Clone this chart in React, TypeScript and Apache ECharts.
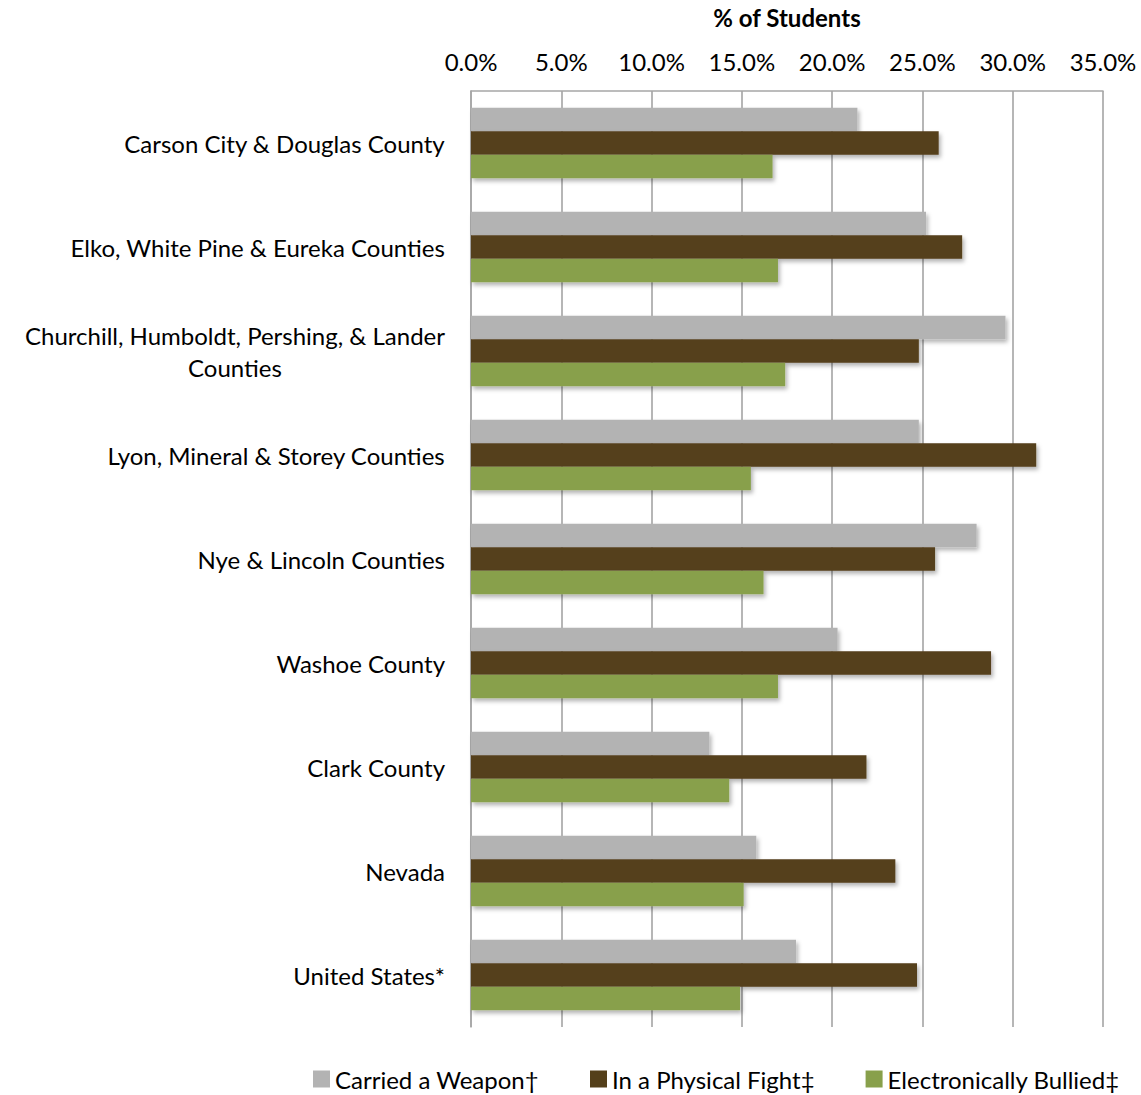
import React, { useEffect, useRef } from "react";
import * as echarts from "echarts";

const categories = [
  "Carson City & Douglas County",
  "Elko, White Pine & Eureka Counties",
  "Churchill, Humboldt, Pershing, & Lander\nCounties",
  "Lyon, Mineral & Storey Counties",
  "Nye & Lincoln Counties",
  "Washoe County",
  "Clark County",
  "Nevada",
  "United States*",
];

const seriesNames = ["Carried a Weapon†", "In a Physical Fight‡", "Electronically Bullied‡"];
const carriedWeapon = [21.4, 25.2, 29.6, 24.8, 28.0, 20.3, 13.2, 15.8, 18.0];
const physicalFight = [25.9, 27.2, 24.8, 31.3, 25.7, 28.8, 21.9, 23.5, 24.7];
const electronicallyBullied = [16.7, 17.0, 17.4, 15.5, 16.2, 17.0, 14.3, 15.1, 14.9];
const colors = ["#B3B3B3", "#543F1A", "#88A04B"];

const FONT = "Lato, 'Open Sans', sans-serif";

export default function App() {
  const ref = useRef<HTMLDivElement>(null);
  useEffect(() => {
    if (!ref.current) return;
    const chart = echarts.init(ref.current, null, { renderer: "svg" });
    const values = [carriedWeapon, physicalFight, electronicallyBullied];
    chart.setOption({
      animation: false,
      textStyle: { fontFamily: FONT },
      grid: {
        left: 471,
        right: 38,
        top: 91,
        bottom: 68,
        containLabel: false,
        outerBoundsMode: "none",
      },
      legend: {
        left: 308,
        top: 1062,
        itemWidth: 17,
        itemHeight: 17,
        itemGap: 51,
        icon: "rect",
        textStyle: { fontSize: 24, color: "#000", fontFamily: FONT, padding: [0, 0, 0, 0] },
        data: seriesNames,
      },
      xAxis: {
        type: "value",
        position: "top",
        min: 0,
        max: 35,
        interval: 5,
        name: "% of Students",
        nameLocation: "middle",
        nameGap: 62,
        nameTextStyle: { fontSize: 24, fontWeight: "bold", color: "#000", fontFamily: FONT },
        axisLine: { show: true, lineStyle: { color: "#A6A6A6", width: 1.5 } },
        axisTick: { show: false },
        axisLabel: {
          fontSize: 24,
          color: "#000",
          margin: 18,
          formatter: (v: number) => v.toFixed(1) + "%",
        },
        splitLine: { show: true, lineStyle: { color: "#9E9E9E", width: 1.5 } },
      },
      yAxis: {
        type: "category",
        inverse: true,
        data: categories,
        axisLine: { show: true, lineStyle: { color: "#A6A6A6", width: 1.5 } },
        axisTick: { show: false },
        axisLabel: {
          fontSize: 24,
          color: "#000",
          margin: 26,
          lineHeight: 32,
          formatter: (v: string) =>
            v
              .split("\n")
              .map((s) => "{c|" + s + "}")
              .join("\n"),
          rich: { c: { align: "center", fontSize: 24, color: "#000", fontFamily: FONT, lineHeight: 32 } },
        },
      },
      series: seriesNames.map((name, i) => ({
        name,
        type: "bar",
        data: values[i],
        barGap: "0%",
        barCategoryGap: "32%",
        itemStyle: {
          color: colors[i],
          shadowBlur: 4,
          shadowOffsetX: 2,
          shadowOffsetY: 3,
          shadowColor: "rgba(0,0,0,0.3)",
        },
      })),
    });
    return () => chart.dispose();
  }, []);
  return (
    <div
      ref={ref}
      style={{ position: "absolute", left: 0, top: 0, width: 1141, height: 1095 }}
    />
  );
}
